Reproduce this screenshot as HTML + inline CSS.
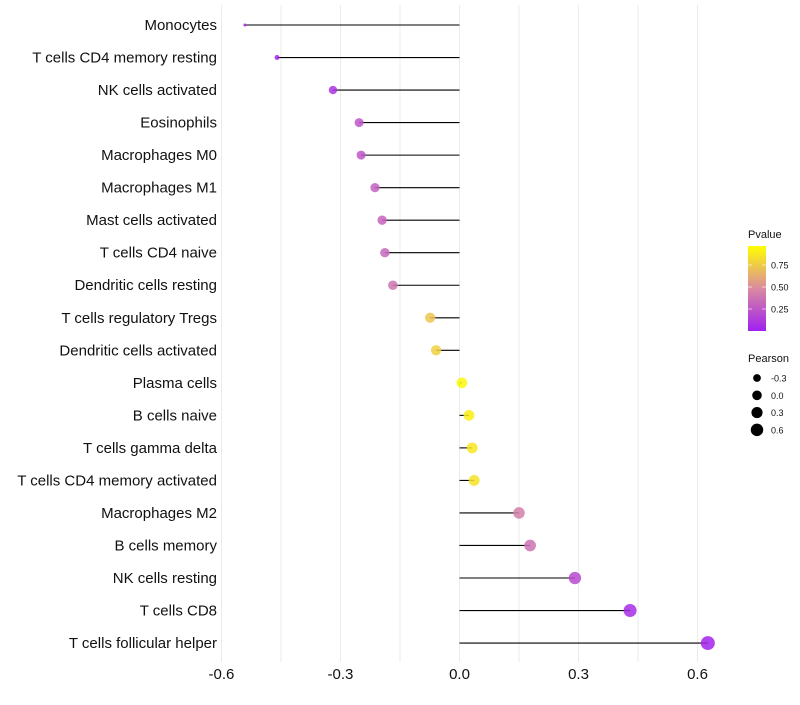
<!DOCTYPE html>
<html><head><meta charset="utf-8"><style>
body{margin:0;background:#fff;font-family:"Liberation Sans",sans-serif}
</style></head><body>
<svg id="chart" width="800" height="700" xmlns="http://www.w3.org/2000/svg" font-family="Liberation Sans, sans-serif"></svg>
<script>
const categories=["Monocytes","T cells CD4 memory resting","NK cells activated","Eosinophils","Macrophages M0","Macrophages M1","Mast cells activated","T cells CD4 naive","Dendritic cells resting","T cells regulatory  Tregs ","Dendritic cells activated","Plasma cells","B cells naive","T cells gamma delta","T cells CD4 memory activated","Macrophages M2","B cells memory","NK cells resting","T cells CD8","T cells follicular helper"];
const pearson=[-0.541,-0.46,-0.319,-0.253,-0.248,-0.213,-0.195,-0.188,-0.168,-0.074,-0.059,0.006,0.024,0.032,0.037,0.15,0.178,0.291,0.43,0.626];
const pvalues=[0.02,0.03,0.1,0.25,0.25,0.3,0.32,0.34,0.4,0.75,0.8,0.97,0.93,0.9,0.88,0.45,0.38,0.2,0.06,0.02];
const xTicks=[-0.6,-0.3,0.0,0.3,0.6];
const xTickLabels=["-0.6","-0.3","0.0","0.3","0.6"];
const legendP=[0.25,0.5,0.75];
const legendSizes=[-0.3,0.0,0.3,0.6];

const svg=document.getElementById('chart');
const NS="http://www.w3.org/2000/svg";
function mk(t,a,p){const e=document.createElementNS(NS,t);for(const k in a)e.setAttribute(k,a[k]);(p||svg).appendChild(e);return e;}
const x=v=>459.5+v*396.7;
const y=i=>25+i*32.53;
const r=v=>{if(v>=-0.32)return Math.sqrt(28.4+32.7*v);const r0=Math.sqrt(28.4-32.7*0.32);return Math.max(1.2,1.5+(v+0.54)/0.22*(r0-1.5));};
function col(p){
 const stops=[[0,[160,32,240]],[0.5,[218,138,160]],[1,[255,255,0]]];
 let a=stops[0],b=stops[1];if(p>0.5){a=stops[1];b=stops[2];}
 const t=(p-a[0])/(b[0]-a[0]);
 return 'rgb('+a[1].map((c,i)=>Math.round(c+(b[1][i]-c)*t)).join(',')+')';
}
for(let v=-0.6;v<=0.61;v+=0.15){
 const g=mk('line',{x1:x(v),x2:x(v),y1:5,y2:662,stroke:'#ebebeb','stroke-width':1});
 
 
}
xTicks.forEach((v,i)=>{
 const t=mk('text',{x:x(v),y:679,'text-anchor':'middle','font-size':15,fill:'#111'});
 t.textContent=xTickLabels[i];
 
 
});
categories.forEach((c,i)=>{
 const t=mk('text',{x:217,y:y(i)+5,'text-anchor':'end','font-size':15,fill:'#111'});
 t.textContent=c;
 
 
 const l=mk('line',{x1:x(0),x2:x(pearson[i]),y1:y(i),y2:y(i),stroke:'#000','stroke-width':1.1});
 
 
 const d=mk('circle',{cx:x(pearson[i]),cy:y(i),r:r(pearson[i]),fill:col(pvalues[i]),'fill-opacity':0.85});
 
 
});
const defs=mk('defs',{});
const lg=mk('linearGradient',{id:'pg',x1:0,y1:1,x2:0,y2:0},defs);
[[0,'rgb(160,32,240)'],[0.5,'rgb(218,138,160)'],[1,'rgb(255,255,0)']].forEach(s=>mk('stop',{offset:s[0],'stop-color':s[1]},lg));
const lt=mk('text',{x:748,y:238,'font-size':11,fill:'#111'});lt.textContent='Pvalue';


const bar=mk('rect',{x:748,y:246,width:18,height:85,fill:'url(#pg)'});


const py=p=>331-p*88;
legendP.forEach(p=>{
 mk('line',{x1:748,x2:752,y1:py(p),y2:py(p),stroke:'#fff','stroke-opacity':0.6});
 mk('line',{x1:762,x2:766,y1:py(p),y2:py(p),stroke:'#fff','stroke-opacity':0.6});
 const t=mk('text',{x:771,y:py(p)+3.5,'font-size':9,fill:'#111'});t.textContent=p.toFixed(2);
 
 
});
const st=mk('text',{x:748,y:362,'font-size':11,fill:'#111'});st.textContent='Pearson';


legendSizes.forEach((v,i)=>{
 const cy=378+i*17.3;
 const c=mk('circle',{cx:757,cy:cy,r:r(v)*0.9,fill:'#000'});
 
 
 const t=mk('text',{x:771,y:cy+3.5,'font-size':9,fill:'#111'});t.textContent=v.toFixed(1);
 
 
});
</script>
</body></html>
